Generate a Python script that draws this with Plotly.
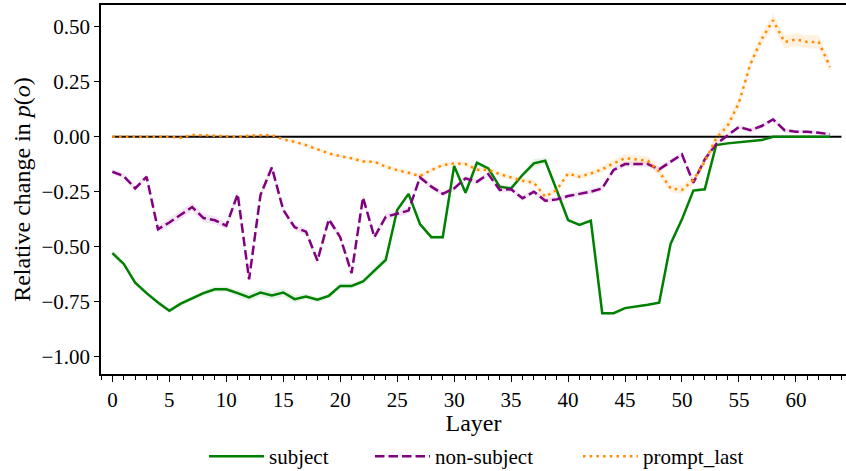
import plotly.graph_objects as go

layers = list(range(64))

subject = [-0.53, -0.579, -0.664, -0.712, -0.754, -0.792, -0.760, -0.735, -0.712, -0.694,
           -0.694, -0.712, -0.731, -0.709, -0.722, -0.709, -0.739, -0.727, -0.742, -0.724,
           -0.679, -0.679, -0.659, -0.609, -0.56, -0.333, -0.26, -0.397, -0.457, -0.457,
           -0.133, -0.255, -0.118, -0.144, -0.227, -0.235, -0.174, -0.121, -0.109, -0.242,
           -0.379, -0.401, -0.382, -0.803, -0.803, -0.78, -0.773, -0.765, -0.755, -0.488,
           -0.376, -0.245, -0.239, -0.038, -0.03, -0.025, -0.02, -0.015, 0.0, 0.0,
           0.0, 0.0, 0.0, 0.0]

non_subject = [-0.159, -0.179, -0.235, -0.182, -0.421, -0.39, -0.355, -0.32, -0.37, -0.38,
               -0.405, -0.261, -0.649, -0.265, -0.14, -0.333, -0.412, -0.432, -0.564, -0.376,
               -0.457, -0.621, -0.276, -0.457, -0.364, -0.351, -0.336, -0.185, -0.227, -0.26,
               -0.235, -0.189, -0.205, -0.17, -0.242, -0.239, -0.28, -0.25, -0.291, -0.285,
               -0.27, -0.26, -0.25, -0.235, -0.151, -0.124, -0.124, -0.124, -0.148, -0.114,
               -0.08, -0.209, -0.103, -0.033, 0.008, 0.045, 0.03, 0.049, 0.079, 0.03,
               0.023, 0.023, 0.018, 0.012]

prompt_last = [0.0, 0.0, 0.0, 0.0, 0.0, 0.0, -0.004, 0.008, 0.007, 0.005,
               0.0, 0.0, 0.005, 0.007, 0.008, -0.012, -0.023, -0.038, -0.057, -0.076,
               -0.088, -0.098, -0.112, -0.114, -0.136, -0.152, -0.164, -0.179, -0.152, -0.129,
               -0.121, -0.124, -0.15, -0.15, -0.17, -0.185, -0.2, -0.209, -0.273, -0.242,
               -0.167, -0.182, -0.167, -0.148, -0.121, -0.098, -0.103, -0.109, -0.159, -0.235,
               -0.242, -0.197, -0.114, -0.007, 0.05, 0.155, 0.33, 0.445, 0.53, 0.432,
               0.443, 0.432, 0.432, 0.318]

# half-widths of the shaded uncertainty bands
subject_err = [0.015, 0.012, 0.01, 0.01, 0.01, 0.01, 0.01, 0.01, 0.012, 0.012,
               0.012, 0.015, 0.018, 0.018, 0.018, 0.018, 0.018, 0.012, 0.012, 0.012,
               0.012, 0.012, 0.012, 0.018, 0.018, 0.01, 0.01, 0.01, 0.01, 0.01,
               0.01, 0.01, 0.01, 0.01, 0.01, 0.01, 0.01, 0.02, 0.012, 0.008,
               0.008, 0.008, 0.008, 0.006, 0.006, 0.006, 0.006, 0.006, 0.006, 0.008,
               0.008, 0.008, 0.008, 0.005, 0.005, 0.005, 0.005, 0.005, 0.004, 0.004,
               0.004, 0.004, 0.004, 0.004]
non_subject_err = [0.012, 0.012, 0.012, 0.012, 0.015, 0.018, 0.02, 0.02, 0.02, 0.018,
                   0.015, 0.015, 0.015, 0.015, 0.015, 0.015, 0.015, 0.015, 0.015, 0.015,
                   0.015, 0.015, 0.015, 0.015, 0.015, 0.015, 0.015, 0.012, 0.012, 0.012,
                   0.012, 0.012, 0.012, 0.012, 0.012, 0.012, 0.012, 0.012, 0.012, 0.012,
                   0.012, 0.012, 0.012, 0.012, 0.012, 0.012, 0.012, 0.012, 0.012, 0.012,
                   0.012, 0.012, 0.012, 0.01, 0.01, 0.01, 0.01, 0.01, 0.01, 0.01,
                   0.008, 0.008, 0.008, 0.008]
prompt_last_err = [0.006, 0.006, 0.006, 0.006, 0.006, 0.006, 0.006, 0.006, 0.006, 0.006,
                   0.006, 0.006, 0.006, 0.006, 0.006, 0.008, 0.008, 0.008, 0.008, 0.008,
                   0.008, 0.008, 0.008, 0.008, 0.01, 0.01, 0.01, 0.01, 0.01, 0.01,
                   0.01, 0.01, 0.01, 0.01, 0.01, 0.01, 0.012, 0.012, 0.012, 0.012,
                   0.012, 0.012, 0.012, 0.015, 0.018, 0.02, 0.02, 0.02, 0.02, 0.018,
                   0.018, 0.018, 0.018, 0.02, 0.025, 0.025, 0.025, 0.028, 0.03, 0.03,
                   0.03, 0.03, 0.03, 0.028]

series = [
    ("subject", subject, subject_err, "#008000", "rgba(0,128,0,0.10)", "solid", "legend"),
    ("non-subject", non_subject, non_subject_err, "#800080", "rgba(128,0,128,0.10)", "9.5px,4px", "legend2"),
    ("prompt_last", prompt_last, prompt_last_err, "#FF8C00", "rgba(255,140,0,0.12)", "2.5px,4.2px", "legend3"),
]

FONT = "Liberation Serif"
W, H = 846, 471

fig = go.Figure()

# zero reference line
fig.add_trace(go.Scatter(x=[0, 64], y=[0, 0], mode="lines",
                         line=dict(color="black", width=2), showlegend=False,
                         hoverinfo="skip"))

for name, vals, err, col, fillcol, dash, leg in series:
    upper = [v + e for v, e in zip(vals, err)]
    lower = [v - e for v, e in zip(vals, err)]
    fig.add_trace(go.Scatter(x=layers, y=upper, mode="lines", line=dict(width=0),
                             showlegend=False, hoverinfo="skip"))
    fig.add_trace(go.Scatter(x=layers, y=lower, mode="lines", line=dict(width=0),
                             fill="tonexty", fillcolor=fillcol,
                             showlegend=False, hoverinfo="skip"))
    fig.add_trace(go.Scatter(x=layers, y=vals, mode="lines", name=name, legend=leg,
                             line=dict(color=col, width=2.5, dash=dash)))


def leg(px):
    return dict(orientation="h", xref="container", yref="container",
                x=px / W, xanchor="left",
                y=1 - 456.5 / H, yanchor="middle", traceorder="normal",
                itemwidth=55,
                font=dict(size=21, family=FONT, color="black"),
                bgcolor="rgba(0,0,0,0)", borderwidth=0)


fig.update_layout(
    width=W, height=H,
    margin=dict(l=101, r=0, t=5, b=97, autoexpand=False),
    paper_bgcolor="white", plot_bgcolor="white",
    font=dict(family=FONT, size=21, color="black"),
    showlegend=True,
    legend=leg(204),
    legend2=leg(370),
    legend3=leg(578),
)

fig.update_xaxes(
    range=[-1, 64.4], tickmode="array", tickvals=list(range(0, 61, 5)),
    ticks="outside", ticklen=6, tickwidth=1.2, tickcolor="black",
    showline=True, linecolor="black", linewidth=1.5, mirror=True,
    showgrid=False, zeroline=False,
    tickfont=dict(size=21, family=FONT),
    minor=dict(ticks="outside", ticklen=4, tickwidth=1, tickcolor="black", dtick=1, tick0=0,
               showgrid=False),
    title=dict(text="Layer", font=dict(size=24, family=FONT), standoff=0),
)
fig.update_yaxes(
    range=[-1.08, 0.6], tickmode="array",
    tickvals=[-1.0, -0.75, -0.5, -0.25, 0.0, 0.25, 0.5],
    ticktext=["\u22121.00", "\u22120.75", "\u22120.50", "\u22120.25", "0.00", "0.25", "0.50"],
    ticks="outside", ticklen=5, tickwidth=1.2, tickcolor="black",
    showline=True, linecolor="black", linewidth=1.5, mirror=False,
    showgrid=False, zeroline=False,
    tickfont=dict(size=21, family=FONT),
    title=dict(text="Relative change in <i>p</i>(<i>o</i>)", font=dict(size=24, family=FONT),
               standoff=4),
)

fig.write_html("out.html")
